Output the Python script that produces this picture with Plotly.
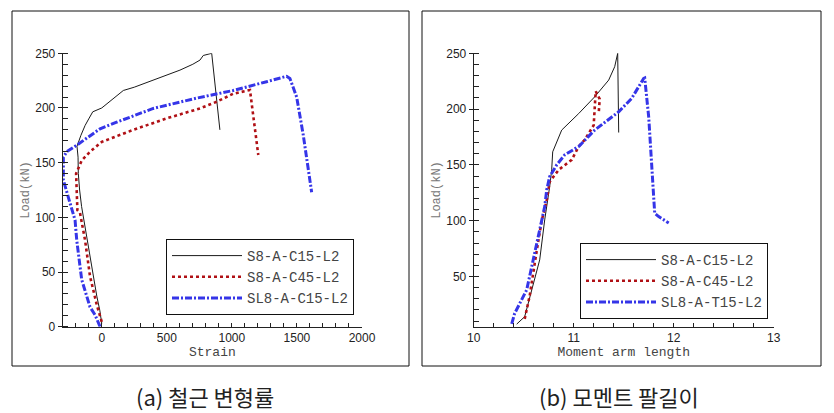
import plotly.graph_objects as go

W, H = 834, 413
OFF = 8  # page body margin

# ---- (a) strain vs load ----
a_black_x = [0, -15, -38, -70, -100, -130, -155, -170, -180, -182, -190, -160, -128, -100, -69, 0, 100, 166, 250, 396, 500, 601, 700, 755, 780, 845, 908]
a_black_y = [3, 15, 28, 50, 72, 95, 110, 125, 140, 155, 165, 175, 184, 190, 196.5, 200, 210, 216, 219, 225.5, 230, 234.6, 240, 243.8, 248, 250, 180]

a_red_x = [0, -38, -90, -128, -167, -187, -192, -197, -154, -90, 0, 243, 499, 755, 883, 1010, 1139, 1203]
a_red_y = [4.5, 20, 46, 79, 104, 106.6, 123, 140, 152, 160, 169, 180, 190.5, 199.6, 205.7, 213, 216.4, 157]

a_blue_x = [-13, -51, -90, -154, -192, -205, -256, -295, -295, -269, -192, -13, 115, 396, 730, 1010, 1267, 1421, 1446, 1498, 1549, 1613]
a_blue_y = [0, 10.7, 18, 43, 79, 97.5, 118, 134, 155, 160, 166, 181, 187, 199.6, 209, 216, 224, 229, 227, 210, 175, 123]

# ---- (b) moment arm length vs load ----
b_black_x = [10.43, 10.51, 10.66, 10.71, 10.76, 10.78, 10.79, 10.88, 11.05, 11.21, 11.35, 11.41, 11.44, 11.45]
b_black_y = [7.3, 14, 64.9, 100.7, 130.6, 145.6, 161.7, 181.2, 196, 211, 226, 238, 250, 179]

b_red_x = [10.51, 10.56, 10.63, 10.68, 10.73, 10.76, 10.85, 10.98, 11.05, 11.11, 11.20, 11.21, 11.22, 11.26, 11.25]
b_red_y = [12, 32.7, 73, 100, 118, 135, 145.6, 154.5, 166.5, 172.4, 185.6, 205, 216, 209, 196]

b_blue_x = [10.38, 10.41, 10.53, 10.58, 10.66, 10.71, 10.73, 10.76, 10.83, 10.91, 11.05, 11.21, 11.45, 11.58, 11.70, 11.71, 11.75, 11.78, 11.81, 11.81, 11.85, 11.95]
b_blue_y = [7.6, 17, 38, 59, 91.8, 112.6, 127.6, 139.6, 150, 159, 166.5, 181.2, 197.6, 209.6, 227.6, 228, 193, 151, 112.6, 106.7, 103.7, 98]

names_a = ["S8-A-C15-L2", "S8-A-C45-L2", "SL8-A-C15-L2"]
names_b = ["S8-A-C15-L2", "S8-A-C45-L2", "SL8-A-T15-L2"]

x_ticks_a = [0, 500, 1000, 1500, 2000]
x_ticks_b = [10, 11, 12, 13]
y_ticks = [0, 50, 100, 150, 200, 250]
y_ticks_b = [50, 100, 150, 200, 250]

BLACK = "#1a1a1a"
RED = "#b01015"
BLUE = "#3535e8"

MONO = "Liberation Mono"
SANS = "Liberation Sans"

styles = [
    dict(color=BLACK, width=1),
    dict(color=RED, width=2.6, dash="dot"),
    dict(color=BLUE, width=3, dash="7px,2px,2px,2px"),
]

fig = go.Figure()
for xs, ys, nm, st in zip([a_black_x, a_red_x, a_blue_x], [a_black_y, a_red_y, a_blue_y], names_a, styles):
    fig.add_trace(go.Scatter(x=xs, y=ys, name=nm, mode="lines", line=st,
                             xaxis="x", yaxis="y", legend="legend"))
for xs, ys, nm, st in zip([b_black_x, b_red_x, b_blue_x], [b_black_y, b_red_y, b_blue_y], names_b, styles):
    fig.add_trace(go.Scatter(x=xs, y=ys, name=nm, mode="lines", line=st,
                             xaxis="x2", yaxis="y2", legend="legend2"))

FW, FH = W - OFF, H - OFF

def px(x):
    return (x - OFF) / FW

def py(y):
    return 1 - (y - OFF) / FH

tickfont = dict(family=SANS, size=12, color="#222")
mono_title = dict(family=MONO, size=13, color="#444")

xcommon = dict(showline=True, linecolor="#222", linewidth=1, ticks="inside", ticklen=4,
               tickcolor="#222", showgrid=False, zeroline=False, tickfont=tickfont,
               title_font=mono_title, title_standoff=0, automargin=False)
ycommon = dict(showline=True, linecolor="#222", linewidth=1, ticks="outside", ticklen=4,
               tickcolor="#222", showgrid=False, zeroline=False, tickfont=tickfont,
               title_font=dict(family=MONO, size=12, color="#777"), automargin=False,
               minor=dict(ticks="inside", ticklen=5, dtick=10, tickcolor="#222", showgrid=False))

ydom = [py(326.7), py(53.3)]

legfont = dict(family=MONO, size=14, color="#444")

fig.update_layout(
    width=FW, height=FH,
    margin=dict(l=0, r=0, t=0, b=0, autoexpand=False),
    paper_bgcolor="white", plot_bgcolor="white",
    showlegend=True,
    xaxis=dict(domain=[px(62.7), px(362)], range=[-300, 2000], tickvals=x_ticks_a,
               minor=dict(ticks="inside", ticklen=4, dtick=100, tickcolor="#222", showgrid=False),
               title_text="Strain", anchor="y", **xcommon),
    yaxis=dict(domain=ydom, range=[0, 250], tickvals=y_ticks, title_text="Load(kN)",
               title_standoff=3, anchor="x", **ycommon),
    xaxis2=dict(domain=[px(473.7), px(773.7)], range=[10, 13], tickvals=x_ticks_b,
                minor=dict(ticks="inside", ticklen=4, dtick=0.2, tickcolor="#222", showgrid=False),
                title_text="Moment arm length", anchor="y2", **xcommon),
    yaxis2=dict(domain=ydom, range=[5, 250], tickvals=y_ticks_b, title_text="Load(kN)",
                title_standoff=3, anchor="x2", **ycommon),
    legend=dict(x=px(166), y=py(239), xanchor="left", yanchor="top",
                bordercolor="#111", borderwidth=1, bgcolor="white",
                font=legfont, itemwidth=70, tracegroupgap=0),
    legend2=dict(x=px(580), y=py(243), xanchor="left", yanchor="top",
                 bordercolor="#111", borderwidth=1, bgcolor="white",
                 font=legfont, itemwidth=70, tracegroupgap=0),
    shapes=[
        dict(type="rect", xref="paper", yref="paper", x0=px(12), x1=px(409), y0=py(366), y1=py(11),
             line=dict(color="#111", width=1)),
        dict(type="rect", xref="paper", yref="paper", x0=px(422), x1=px(821), y0=py(366), y1=py(11),
             line=dict(color="#111", width=1)),
    ],
    annotations=[
        dict(text="(a) 철근 변형률", x=px(205), y=py(396), xref="paper", yref="paper",
             xanchor="center", yanchor="middle",
             showarrow=False, font=dict(family="Noto Sans CJK KR", size=22, color="#222")),
        dict(text="(b) 모멘트 팔길이", x=px(619), y=py(396), xref="paper", yref="paper",
             xanchor="center", yanchor="middle",
             showarrow=False, font=dict(family="Noto Sans CJK KR", size=22, color="#222")),
    ],
)

fig.write_html("out.html")
